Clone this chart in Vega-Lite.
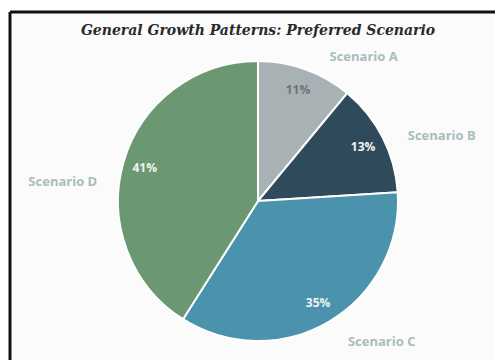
{
  "$schema": "https://vega.github.io/schema/vega-lite/v6.json",
  "width": 496,
  "height": 378,
  "autosize": {"type": "none"},
  "padding": {"left": 10, "top": 12, "right": 0, "bottom": 0},
  "background": "#ffffff",
  "view": {"stroke": "#111111", "strokeWidth": 3, "strokeDash": [496, 874, 378, 0], "fill": "#fbfbfb"},
  "title": {
    "text": "General Growth Patterns:  Preferred Scenario",
    "font": "DejaVu Serif",
    "fontStyle": "italic",
    "fontWeight": "bold",
    "fontSize": 14,
    "color": "#2a2a2a",
    "anchor": "middle",
    "baseline": "middle",
    "offset": 0,
    "dy": 48
  },
  "data": {
    "values": [
      {"scenario": "A", "name": "Scenario A", "value": 11, "pct": "11%"},
      {"scenario": "B", "name": "Scenario B", "value": 13, "pct": "13%"},
      {"scenario": "C", "name": "Scenario C", "value": 35, "pct": "35%"},
      {"scenario": "D", "name": "Scenario D", "value": 41, "pct": "41%"}
    ]
  },
  "encoding": {
    "theta": {"field": "value", "type": "quantitative", "stack": true},
    "order": {"field": "scenario", "sort": "ascending"},
    "detail": {"field": "scenario"}
  },
  "layer": [
    {
      "mark": {"type": "arc", "outerRadius": 140, "stroke": "#ffffff", "strokeWidth": 2},
      "encoding": {
        "color": {
          "field": "scenario",
          "type": "nominal",
          "scale": {"domain": ["A", "B", "C", "D"], "range": ["#a8b2b5", "#2f4a5a", "#4b93ad", "#6b9872"]},
          "legend": null
        }
      }
    },
    {
      "mark": {"type": "text", "radius": 118, "font": "Open Sans", "fontWeight": "bold", "fontSize": 12},
      "encoding": {
        "text": {"field": "pct"},
        "color": {"condition": {"test": "datum.scenario === 'A'", "value": "#6d7478"}, "value": "#f2f2f2"}
      }
    },
    {
      "mark": {"type": "text", "radius": 170, "dx": 48, "dy": 16, "font": "Open Sans", "fontWeight": "bold", "fontSize": 13, "color": "#a9bdbd"},
      "encoding": {"text": {"condition": {"test": "datum.scenario === 'A'", "field": "name"}, "value": ""}}
    },
    {
      "mark": {"type": "text", "radius": 195, "dx": 10, "dy": 24, "font": "Open Sans", "fontWeight": "bold", "fontSize": 13, "color": "#a9bdbd"},
      "encoding": {"text": {"condition": {"test": "datum.scenario === 'B'", "field": "name"}, "value": ""}}
    },
    {
      "mark": {"type": "text", "radius": 188, "dx": 28, "dy": -21, "font": "Open Sans", "fontWeight": "bold", "fontSize": 13, "color": "#a9bdbd"},
      "encoding": {"text": {"condition": {"test": "datum.scenario === 'C'", "field": "name"}, "value": ""}}
    },
    {
      "mark": {"type": "text", "radius": 196, "dx": -7, "dy": 36, "font": "Open Sans", "fontWeight": "bold", "fontSize": 13, "color": "#a9bdbd"},
      "encoding": {"text": {"condition": {"test": "datum.scenario === 'D'", "field": "name"}, "value": ""}}
    }
  ]
}
